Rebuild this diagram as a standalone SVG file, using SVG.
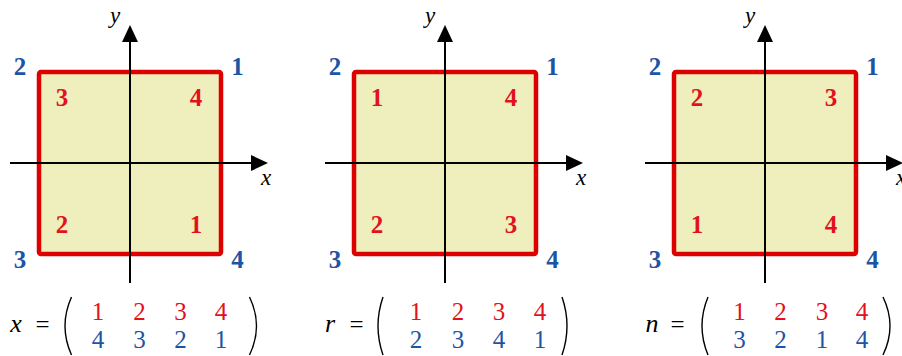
<svg xmlns="http://www.w3.org/2000/svg" width="902" height="356" viewBox="0 0 902 356">
<style>
text{font-family:"Liberation Serif","Times New Roman",serif}
.sq{fill:#efefbe;stroke:#dd0000;stroke-width:4.5}
.ax{stroke:#000;stroke-width:2;fill:none}
.lbl{font-style:italic;font-size:23px;fill:#000}
.cn{font-weight:bold;font-size:25px;fill:#1c55a3;text-anchor:middle}
.rn{font-weight:bold;font-size:25px;fill:#e2121c;text-anchor:middle}
.fr{font-size:25px;fill:#e2121c;text-anchor:middle}
.fb{font-size:25px;fill:#1c55a3;text-anchor:middle}
.fv{font-style:italic;font-size:26px;fill:#000;text-anchor:middle}
.fe{font-size:25px;fill:#000;text-anchor:middle}
.par{stroke:#000;stroke-width:1.4;fill:none}
</style>
<defs>
<marker id="ah" markerUnits="userSpaceOnUse" markerWidth="17" markerHeight="16" refX="0" refY="8" orient="auto">
<path d="M0,0 L17,8 L0,16 Z" fill="#000"/>
</marker>
</defs>

<g id="panel-x" transform="translate(130,0)">
<rect class="sq" x="-91" y="72" width="182" height="182" rx="2"/>
<line class="ax" x1="0" y1="283" x2="0" y2="42" marker-end="url(#ah)"/>
<line class="ax" x1="-120" y1="163" x2="121" y2="163" marker-end="url(#ah)"/>
<text class="lbl" x="-20" y="23">y</text>
<text class="lbl" x="131" y="185">x</text>
<text class="cn" x="-110" y="75">2</text>
<text class="cn" x="107.5" y="75">1</text>
<text class="cn" x="-110" y="268">3</text>
<text class="cn" x="107.5" y="268">4</text>
<text class="rn" x="-68" y="106">3</text>
<text class="rn" x="66" y="106">4</text>
<text class="rn" x="-68" y="233">2</text>
<text class="rn" x="66" y="233">1</text>
</g>

<g id="panel-r" transform="translate(445,0)">
<rect class="sq" x="-91" y="72" width="182" height="182" rx="2"/>
<line class="ax" x1="0" y1="283" x2="0" y2="42" marker-end="url(#ah)"/>
<line class="ax" x1="-120" y1="163" x2="121" y2="163" marker-end="url(#ah)"/>
<text class="lbl" x="-20" y="23">y</text>
<text class="lbl" x="131" y="185">x</text>
<text class="cn" x="-110" y="75">2</text>
<text class="cn" x="107.5" y="75">1</text>
<text class="cn" x="-110" y="268">3</text>
<text class="cn" x="107.5" y="268">4</text>
<text class="rn" x="-68" y="106">1</text>
<text class="rn" x="66" y="106">4</text>
<text class="rn" x="-68" y="233">2</text>
<text class="rn" x="66" y="233">3</text>
</g>

<g id="panel-n" transform="translate(765,0)">
<rect class="sq" x="-91" y="72" width="182" height="182" rx="2"/>
<line class="ax" x1="0" y1="283" x2="0" y2="42" marker-end="url(#ah)"/>
<line class="ax" x1="-120" y1="163" x2="121" y2="163" marker-end="url(#ah)"/>
<text class="lbl" x="-20" y="23">y</text>
<text class="lbl" x="131" y="185">x</text>
<text class="cn" x="-110" y="75">2</text>
<text class="cn" x="107.5" y="75">1</text>
<text class="cn" x="-110" y="268">3</text>
<text class="cn" x="107.5" y="268">4</text>
<text class="rn" x="-68" y="106">2</text>
<text class="rn" x="66" y="106">3</text>
<text class="rn" x="-68" y="233">1</text>
<text class="rn" x="66" y="233">4</text>
</g>

<g id="formula-x">
<text class="fv" x="16" y="332">x</text>
<text class="fe" x="42.5" y="333">=</text>
<path class="par" d="M71.5,297 Q58.5,326 71.5,355"/>
<path class="par" d="M249.5,297 Q263.5,326 249.5,355"/>
<text class="fr" x="98" y="320">1</text>
<text class="fr" x="139.5" y="320">2</text>
<text class="fr" x="180.5" y="320">3</text>
<text class="fr" x="221" y="320">4</text>
<text class="fb" x="98" y="348">4</text>
<text class="fb" x="139.5" y="348">3</text>
<text class="fb" x="180.5" y="348">2</text>
<text class="fb" x="221" y="348">1</text>
</g>

<g id="formula-r">
<text class="fv" x="330" y="332">r</text>
<text class="fe" x="356.5" y="333">=</text>
<path class="par" d="M383,297 Q373,326 383,355"/>
<path class="par" d="M562,297 Q572,326 562,355"/>
<text class="fr" x="416" y="320">1</text>
<text class="fr" x="458" y="320">2</text>
<text class="fr" x="499" y="320">3</text>
<text class="fr" x="540" y="320">4</text>
<text class="fb" x="416" y="348">2</text>
<text class="fb" x="458" y="348">3</text>
<text class="fb" x="499" y="348">4</text>
<text class="fb" x="540" y="348">1</text>
</g>

<g id="formula-n">
<text class="fv" x="652" y="332">n</text>
<text class="fe" x="677.5" y="333">=</text>
<path class="par" d="M708,297 Q696,326 708,355"/>
<path class="par" d="M883,297 Q897,326 883,355"/>
<text class="fr" x="739.5" y="320">1</text>
<text class="fr" x="780.5" y="320">2</text>
<text class="fr" x="822" y="320">3</text>
<text class="fr" x="862" y="320">4</text>
<text class="fb" x="739.5" y="348">3</text>
<text class="fb" x="780.5" y="348">2</text>
<text class="fb" x="822" y="348">1</text>
<text class="fb" x="862" y="348">4</text>
</g>
</svg>
